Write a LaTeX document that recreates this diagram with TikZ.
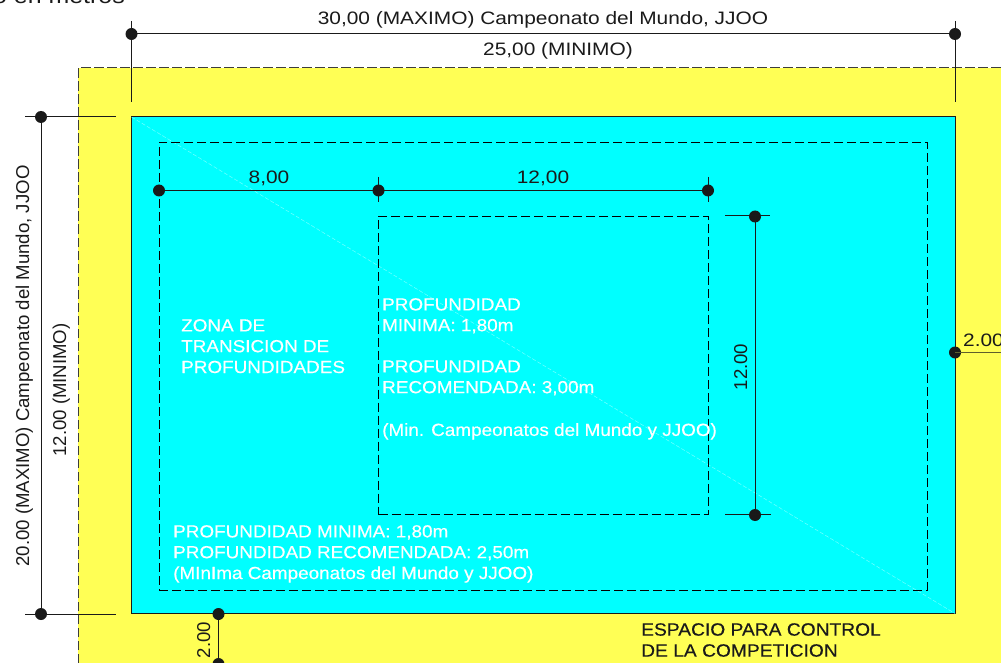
\documentclass[tikz,border=0pt]{standalone}
\usepackage{fontspec}
\setmainfont{Liberation Sans}
\newfontfamily\widea[FakeStretch=1.16]{Liberation Sans}
\newfontfamily\wideb[FakeStretch=1.08,FakeBold=0.3]{Liberation Sans}
\definecolor{ylw}{HTML}{FFFF55}
\definecolor{cyn}{HTML}{00FFFF}
\definecolor{ink}{HTML}{1A1A1A}
\tikzset{
  x=1pt,y=-1pt,
  dimline/.style={draw=ink,line width=1pt},
  dashbox/.style={draw=black,line width=0.9pt,dash pattern=on 9pt off 4pt,outer sep=0pt},
  dimdot/.style={circle,fill=black!90,inner sep=0pt,minimum size=12pt},
  lab/.style={font=\widea\fontsize{18}{18}\selectfont,text=ink,inner sep=0pt},
  vlab/.style={font=\fontsize{18.6}{18.6}\selectfont,text=ink,inner sep=0pt,anchor=base,rotate=90},
  wlab/.style={font=\wideb\fontsize{17.5}{20.8}\selectfont,text=white,inner sep=0pt,align=left,anchor=north west},
  blab/.style={font=\wideb\fontsize{17.8}{21}\selectfont,text=ink,inner sep=0pt,align=left,anchor=north west},
}
\begin{document}
\begin{tikzpicture}
\useasboundingbox (0,0) rectangle (1001,663);
\clip (0,0) rectangle (1001,663);
\fill[white] (0,0) rectangle (1001,663);
% yellow zone
\fill[ylw] (78,68) rectangle (1001,663);
\draw[draw=ink!85,line width=1pt,dash pattern=on 9.5pt off 3.5pt] (78,663) -- (78,68) -- (1001,68);
% pool
\node[draw=ink,line width=1pt,fill=cyn,outer sep=0pt,minimum width=823.5pt,minimum height=496.5pt,inner sep=0pt,anchor=north west] (pool) at (131.5,117) {};
\draw[white!45!cyn,line width=0.5pt,dash pattern=on 4pt off 2pt] (pool.north west) -- (pool.south east);
% dashed zones
\node[dashbox,minimum width=768pt,minimum height=448pt,inner sep=0pt,anchor=north west] (zone) at (159,142) {};
\node[dashbox,minimum width=329.5pt,minimum height=298.5pt,inner sep=0pt,anchor=north west] (deep) at (378.5,216) {};
% dimension points
\node[dimdot] (ta) at (131.5,34) {};
\node[dimdot] (tb) at (955,34) {};
\node[dimdot] (la) at (41,117) {};
\node[dimdot] (lb) at (41,614) {};
\node[dimdot] (ia) at (159,190.5) {};
\node[dimdot] (ib) at (378.5,190.5) {};
\node[dimdot] (ic) at (708,190.5) {};
\node[dimdot] (ra) at (755,216.5) {};
\node[dimdot] (rb) at (755,515) {};
\node[dimdot] (sa) at (955,352.5) {};
\coordinate (sb) at (1001,352.5);
\node[dimdot] (ba) at (218.5,614) {};
\node[dimdot] (bb) at (218.5,664) {};
% extension ends
\coordinate (tau) at (131.5,21); \coordinate (tad) at (131.5,102);
\coordinate (tbu) at (955,21); \coordinate (tbd) at (955,102);
\coordinate (lal) at (25,117); \coordinate (lar) at (116,117);
\coordinate (lbl) at (25,614); \coordinate (lbr) at (116,614);
\coordinate (ibu) at (378.5,177); \coordinate (ibd) at (378.5,202);
\coordinate (icu) at (708,177); \coordinate (icd) at (708,202);
\coordinate (ral) at (725,216); \coordinate (rar) at (770,216);
\coordinate (rbl) at (725,514.5); \coordinate (rbr) at (771,514.5);
% connectors
\draw[dimline] (ta.center) -- (tb.center);
\draw[dimline] (la.center) -- (lb.center);
\draw[dimline] (ia.center) -- (ib.center) -- (ic.center);
\draw[dimline] (ra.center) -- (rb.center);
\draw[dimline,draw=ink!70!ylw] (sa.center) -- (sb);
\draw[dimline] (ba.center) -- (bb.center);
\draw[dimline] (tau) -- (tad);
\draw[dimline] (tbu) -- (tbd);
\draw[dimline] (lal) -- (lar);
\draw[dimline] (lbl) -- (lbr);
\draw[dimline] (ibu) -- (ibd);
\draw[dimline] (icu) -- (icd);
\draw[dimline] (ral) -- (rar);
\draw[dimline] (rbl) -- (rbr);
% labels
\node[lab,anchor=base east,font=\widea\fontsize{21.5}{21.5}\selectfont] (units) at (125,3.5) {o en metros};
\node[lab,anchor=base] (t30) at (543,25) {30,00 (MAXIMO) Campeonato del Mundo, JJOO};
\node[lab,anchor=base] (t25) at (558,56) {25,00 (MINIMO)};
\node[vlab] (l20) at (29,366) {20.00 (MAXIMO) Campeonato del Mundo, JJOO};
\node[vlab] (l12) at (66,390) {12.00 (MINIMO)};
\node[lab,anchor=base] (d8) at (269,184) {8,00};
\node[lab,anchor=base] (d12) at (543,184) {12,00};
\node[vlab] (r12) at (747,367) {12.00};
\node[lab,anchor=base west] (s2) at (963,346) {2.00};
\node[vlab] (b2) at (210,640) {2.00};
\node[wlab] (ztxt) at (181,319) {ZONA DE\\TRANSICION DE\\PROFUNDIDADES};
\node[wlab] (d1) at (382,298) {PROFUNDIDAD\\MINIMA: 1,80m};
\node[wlab] (d2) at (382,360) {PROFUNDIDAD\\RECOMENDADA: 3,00m};
\node[wlab] (d3) at (382,423) {(Min. Campeonatos del Mundo y JJOO)};
\node[wlab] (z2) at (173,525) {PROFUNDIDAD MINIMA: 1,80m\\PROFUNDIDAD RECOMENDADA: 2,50m\\(MInIma Campeonatos del Mundo y JJOO)};
\node[blab] (esp) at (641,623) {ESPACIO PARA CONTROL\\DE LA COMPETICION};
\end{tikzpicture}
\end{document}
